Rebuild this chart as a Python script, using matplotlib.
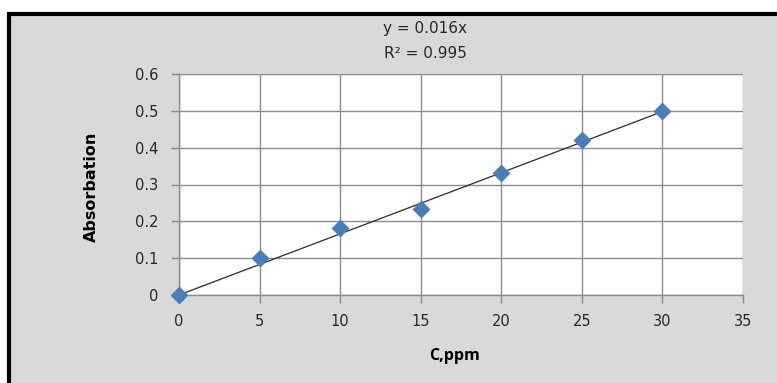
import numpy as np
import matplotlib
matplotlib.use('Agg')
import matplotlib.pyplot as plt
from matplotlib.patches import Rectangle

# data
conc = [0, 5, 10, 15, 20, 25, 30]
absorb = [0.0, 0.101, 0.181, 0.233, 0.331, 0.421, 0.5]
# drawn trendline ends on the 30 ppm point; label shows the rounded slope
line_slope = 0.0166
eq_label = 'y = 0.016x'
r2_label = 'R² = 0.995'
x_ticks = [0, 5, 10, 15, 20, 25, 30, 35]
y_ticks = [0, 0.1, 0.2, 0.3, 0.4, 0.5, 0.6]
y_tick_labels = ['0', '0.1', '0.2', '0.3', '0.4', '0.5', '0.6']

W, H = 777, 383
fig = plt.figure(figsize=(W / 100, H / 100), dpi=100, facecolor='white')

# grey chart area with thick black frame (only left/top visible)
fig.patches.append(Rectangle((8.5 / W, -0.1), 1.2, 1 - 13.5 / H + 0.1,
                             transform=fig.transFigure, facecolor='#d9d9d9',
                             edgecolor='black', linewidth=3, zorder=-5))

ax = fig.add_axes([179 / W, 1 - 295 / H, (743 - 179) / W, (295 - 74) / H])
ax.set_zorder(2)
ax.set_facecolor('white')

fit_x = np.array([conc[0], conc[-1]])
ax.plot(fit_x, line_slope * fit_x, color='#2a2a2a', linewidth=0.9, zorder=3)
ax.plot(conc, absorb, linestyle='none', marker='D', markersize=8,
        color='#4a7ebb', markeredgecolor='#4a7ebb', zorder=4, clip_on=False)

ax.set_xlim(0, 35)
ax.set_ylim(0, 0.6)
ax.set_xticks(x_ticks)
ax.set_yticks(y_ticks)
ax.set_yticklabels(y_tick_labels)
ax.grid(True, color='#8c8c8c', linewidth=1)
ax.set_axisbelow(True)

for side in ['top', 'right']:
    ax.spines[side].set_visible(False)
for side in ['left', 'bottom']:
    ax.spines[side].set_color('#8c8c8c')
    ax.spines[side].set_linewidth(1)

ax.tick_params(axis='both', colors='#8c8c8c', length=6, width=1,
               labelcolor='#262626', labelsize=10.5)
ax.tick_params(axis='y', pad=9)
ax.tick_params(axis='x', pad=8)

fig.text(425 / W, 1 - 29 / H, eq_label, ha='center', va='center',
         fontsize=11, color='#262626')
fig.text(425 / W, 1 - 53 / H, r2_label, ha='center', va='center',
         fontsize=11, color='#262626')

fig.text(91 / W, 1 - 187 / H, 'Absorbation', rotation=90, ha='center',
         va='center', fontsize=11.5, fontweight='bold',
         family=['Liberation Sans Narrow', 'DejaVu Sans'], color='black')
fig.text(454 / W, 1 - 356 / H, 'C,ppm', ha='center', va='center',
         fontsize=11.5, fontweight='bold', family=['Open Sans', 'DejaVu Sans'],
         color='black')

fig.savefig('out.png', dpi=100, facecolor=fig.get_facecolor())
